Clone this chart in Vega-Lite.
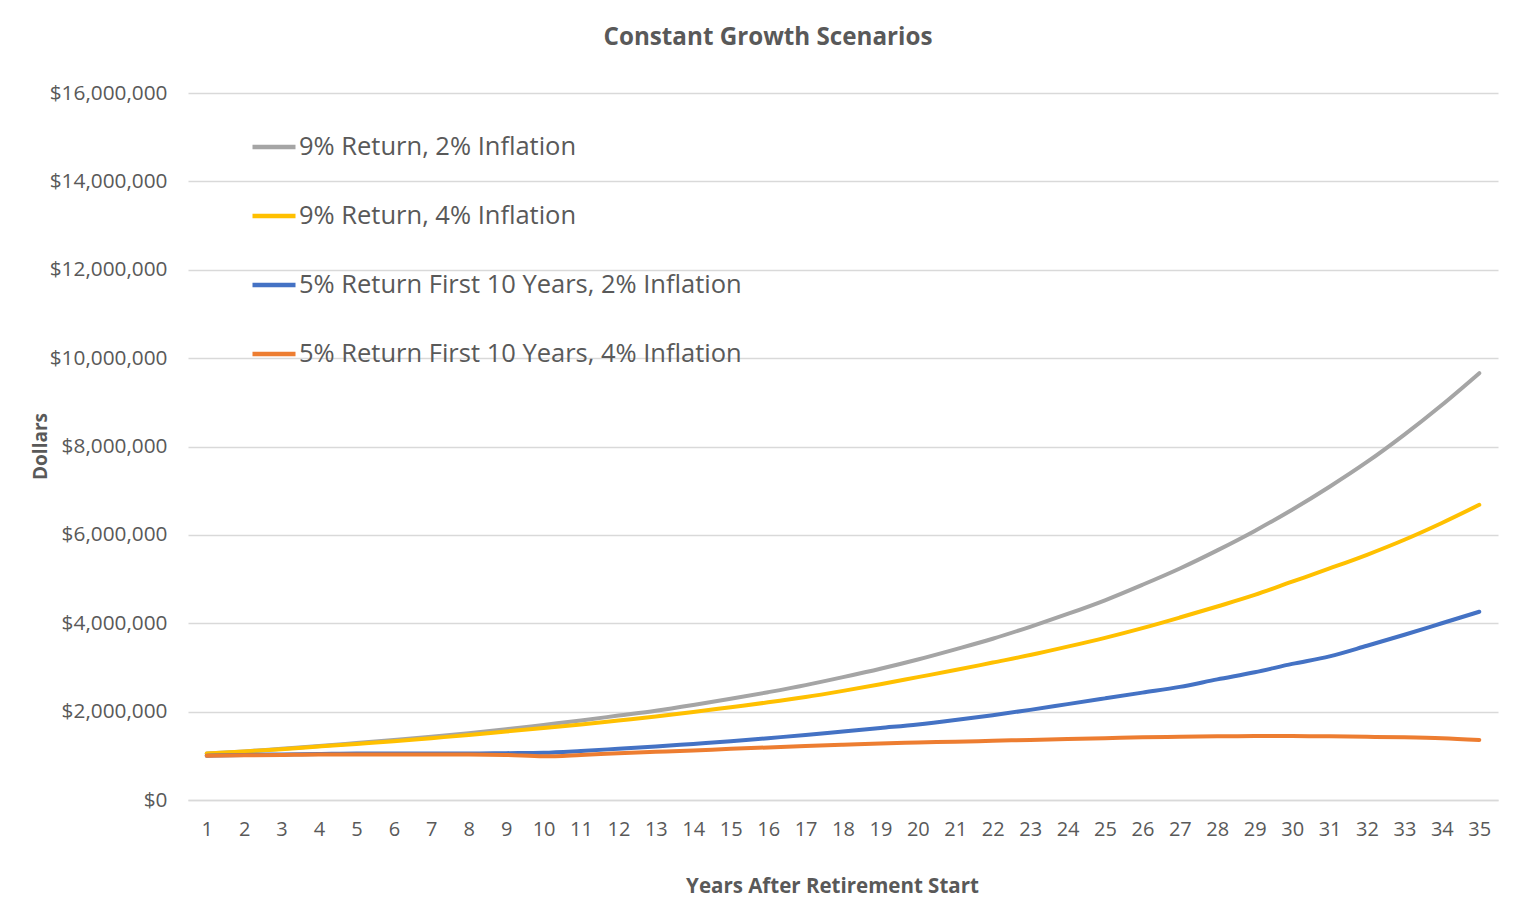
{
  "$schema": "https://vega.github.io/schema/vega-lite/v6.json",
  "autosize": "none",
  "width": 1310,
  "height": 707,
  "padding": {"left": 188, "top": 93, "right": 40, "bottom": 123},
  "background": "white",
  "title": {
    "text": "Constant Growth Scenarios",
    "font": "Open Sans",
    "fontSize": 24.2,
    "fontWeight": "bold",
    "color": "#595959",
    "anchor": "middle",
    "dx": -75,
    "offset": 32
  },
  "data": {
    "values": [
      {"year": 1, "9% Return, 2% Inflation": 1050000, "9% Return, 4% Inflation": 1050000, "5% Return First 10 Years, 2% Inflation": 1000000, "5% Return First 10 Years, 4% Inflation": 1000000},
      {"year": 2, "9% Return, 2% Inflation": 1100000, "9% Return, 4% Inflation": 1100000, "5% Return First 10 Years, 2% Inflation": 1020000, "5% Return First 10 Years, 4% Inflation": 1010000},
      {"year": 3, "9% Return, 2% Inflation": 1160000, "9% Return, 4% Inflation": 1150000, "5% Return First 10 Years, 2% Inflation": 1030000, "5% Return First 10 Years, 4% Inflation": 1020000},
      {"year": 4, "9% Return, 2% Inflation": 1220000, "9% Return, 4% Inflation": 1210000, "5% Return First 10 Years, 2% Inflation": 1040000, "5% Return First 10 Years, 4% Inflation": 1030000},
      {"year": 5, "9% Return, 2% Inflation": 1290000, "9% Return, 4% Inflation": 1270000, "5% Return First 10 Years, 2% Inflation": 1050000, "5% Return First 10 Years, 4% Inflation": 1030000},
      {"year": 6, "9% Return, 2% Inflation": 1360000, "9% Return, 4% Inflation": 1330000, "5% Return First 10 Years, 2% Inflation": 1050000, "5% Return First 10 Years, 4% Inflation": 1030000},
      {"year": 7, "9% Return, 2% Inflation": 1430000, "9% Return, 4% Inflation": 1400000, "5% Return First 10 Years, 2% Inflation": 1050000, "5% Return First 10 Years, 4% Inflation": 1030000},
      {"year": 8, "9% Return, 2% Inflation": 1510000, "9% Return, 4% Inflation": 1470000, "5% Return First 10 Years, 2% Inflation": 1050000, "5% Return First 10 Years, 4% Inflation": 1030000},
      {"year": 9, "9% Return, 2% Inflation": 1600000, "9% Return, 4% Inflation": 1550000, "5% Return First 10 Years, 2% Inflation": 1060000, "5% Return First 10 Years, 4% Inflation": 1020000},
      {"year": 10, "9% Return, 2% Inflation": 1700000, "9% Return, 4% Inflation": 1630000, "5% Return First 10 Years, 2% Inflation": 1070000, "5% Return First 10 Years, 4% Inflation": 990000},
      {"year": 11, "9% Return, 2% Inflation": 1800000, "9% Return, 4% Inflation": 1710000, "5% Return First 10 Years, 2% Inflation": 1110000, "5% Return First 10 Years, 4% Inflation": 1020000},
      {"year": 12, "9% Return, 2% Inflation": 1910000, "9% Return, 4% Inflation": 1800000, "5% Return First 10 Years, 2% Inflation": 1160000, "5% Return First 10 Years, 4% Inflation": 1060000},
      {"year": 13, "9% Return, 2% Inflation": 2020000, "9% Return, 4% Inflation": 1890000, "5% Return First 10 Years, 2% Inflation": 1210000, "5% Return First 10 Years, 4% Inflation": 1090000},
      {"year": 14, "9% Return, 2% Inflation": 2150000, "9% Return, 4% Inflation": 1990000, "5% Return First 10 Years, 2% Inflation": 1270000, "5% Return First 10 Years, 4% Inflation": 1120000},
      {"year": 15, "9% Return, 2% Inflation": 2290000, "9% Return, 4% Inflation": 2100000, "5% Return First 10 Years, 2% Inflation": 1330000, "5% Return First 10 Years, 4% Inflation": 1160000},
      {"year": 16, "9% Return, 2% Inflation": 2440000, "9% Return, 4% Inflation": 2210000, "5% Return First 10 Years, 2% Inflation": 1400000, "5% Return First 10 Years, 4% Inflation": 1190000},
      {"year": 17, "9% Return, 2% Inflation": 2600000, "9% Return, 4% Inflation": 2330000, "5% Return First 10 Years, 2% Inflation": 1470000, "5% Return First 10 Years, 4% Inflation": 1220000},
      {"year": 18, "9% Return, 2% Inflation": 2780000, "9% Return, 4% Inflation": 2470000, "5% Return First 10 Years, 2% Inflation": 1550000, "5% Return First 10 Years, 4% Inflation": 1250000},
      {"year": 19, "9% Return, 2% Inflation": 2970000, "9% Return, 4% Inflation": 2620000, "5% Return First 10 Years, 2% Inflation": 1630000, "5% Return First 10 Years, 4% Inflation": 1280000},
      {"year": 20, "9% Return, 2% Inflation": 3180000, "9% Return, 4% Inflation": 2780000, "5% Return First 10 Years, 2% Inflation": 1710000, "5% Return First 10 Years, 4% Inflation": 1300000},
      {"year": 21, "9% Return, 2% Inflation": 3410000, "9% Return, 4% Inflation": 2940000, "5% Return First 10 Years, 2% Inflation": 1810000, "5% Return First 10 Years, 4% Inflation": 1320000},
      {"year": 22, "9% Return, 2% Inflation": 3650000, "9% Return, 4% Inflation": 3110000, "5% Return First 10 Years, 2% Inflation": 1920000, "5% Return First 10 Years, 4% Inflation": 1340000},
      {"year": 23, "9% Return, 2% Inflation": 3920000, "9% Return, 4% Inflation": 3280000, "5% Return First 10 Years, 2% Inflation": 2040000, "5% Return First 10 Years, 4% Inflation": 1360000},
      {"year": 24, "9% Return, 2% Inflation": 4210000, "9% Return, 4% Inflation": 3470000, "5% Return First 10 Years, 2% Inflation": 2170000, "5% Return First 10 Years, 4% Inflation": 1380000},
      {"year": 25, "9% Return, 2% Inflation": 4520000, "9% Return, 4% Inflation": 3670000, "5% Return First 10 Years, 2% Inflation": 2300000, "5% Return First 10 Years, 4% Inflation": 1400000},
      {"year": 26, "9% Return, 2% Inflation": 4870000, "9% Return, 4% Inflation": 3890000, "5% Return First 10 Years, 2% Inflation": 2430000, "5% Return First 10 Years, 4% Inflation": 1420000},
      {"year": 27, "9% Return, 2% Inflation": 5240000, "9% Return, 4% Inflation": 4130000, "5% Return First 10 Years, 2% Inflation": 2560000, "5% Return First 10 Years, 4% Inflation": 1430000},
      {"year": 28, "9% Return, 2% Inflation": 5650000, "9% Return, 4% Inflation": 4380000, "5% Return First 10 Years, 2% Inflation": 2730000, "5% Return First 10 Years, 4% Inflation": 1440000},
      {"year": 29, "9% Return, 2% Inflation": 6090000, "9% Return, 4% Inflation": 4640000, "5% Return First 10 Years, 2% Inflation": 2890000, "5% Return First 10 Years, 4% Inflation": 1450000},
      {"year": 30, "9% Return, 2% Inflation": 6570000, "9% Return, 4% Inflation": 4940000, "5% Return First 10 Years, 2% Inflation": 3080000, "5% Return First 10 Years, 4% Inflation": 1450000},
      {"year": 31, "9% Return, 2% Inflation": 7090000, "9% Return, 4% Inflation": 5240000, "5% Return First 10 Years, 2% Inflation": 3250000, "5% Return First 10 Years, 4% Inflation": 1440000},
      {"year": 32, "9% Return, 2% Inflation": 7650000, "9% Return, 4% Inflation": 5550000, "5% Return First 10 Years, 2% Inflation": 3490000, "5% Return First 10 Years, 4% Inflation": 1430000},
      {"year": 33, "9% Return, 2% Inflation": 8270000, "9% Return, 4% Inflation": 5890000, "5% Return First 10 Years, 2% Inflation": 3740000, "5% Return First 10 Years, 4% Inflation": 1420000},
      {"year": 34, "9% Return, 2% Inflation": 8940000, "9% Return, 4% Inflation": 6270000, "5% Return First 10 Years, 2% Inflation": 4000000, "5% Return First 10 Years, 4% Inflation": 1400000},
      {"year": 35, "9% Return, 2% Inflation": 9660000, "9% Return, 4% Inflation": 6680000, "5% Return First 10 Years, 2% Inflation": 4260000, "5% Return First 10 Years, 4% Inflation": 1360000}
    ]
  },
  "transform": [
    {"fold": ["9% Return, 2% Inflation", "9% Return, 4% Inflation", "5% Return First 10 Years, 2% Inflation", "5% Return First 10 Years, 4% Inflation"], "as": ["series", "value"]}
  ],
  "mark": {"type": "line", "strokeWidth": 4, "interpolate": "monotone", "strokeCap": "round"},
  "encoding": {
    "x": {
      "field": "year",
      "type": "ordinal",
      "scale": {"type": "point", "padding": 0.5},
      "axis": {
        "title": "Years After Retirement Start",
        "titleFont": "Open Sans",
        "titleFontSize": 20.5,
        "titleFontWeight": "bold",
        "titleColor": "#595959",
        "titleX": 644,
        "titleY": 86,
        "titleBaseline": "middle",
        "labelAngle": 0,
        "labelFont": "Open Sans",
        "labelFontSize": 20,
        "labelColor": "#595959",
        "labelPadding": 19,
        "ticks": false,
        "tickSize": 0,
        "domainColor": "#d9d9d9",
        "domainWidth": 1.5,
        "grid": false
      }
    },
    "y": {
      "field": "value",
      "type": "quantitative",
      "scale": {"domain": [0, 16000000], "nice": false},
      "axis": {
        "title": "Dollars",
        "titleFont": "Open Sans",
        "titleFontSize": 19,
        "titleFontWeight": "bold",
        "titleColor": "#595959",
        "titleX": -148,
        "titleY": 353,
        "titleAngle": 270,
        "titleBaseline": "middle",
        "titleAlign": "center",
        "values": [0, 2000000, 4000000, 6000000, 8000000, 10000000, 12000000, 14000000, 16000000],
        "format": "$,.0f",
        "labelFont": "Open Sans",
        "labelFontSize": 20.8,
        "labelColor": "#595959",
        "labelPadding": 21,
        "ticks": false,
        "tickSize": 0,
        "domain": false,
        "grid": true,
        "gridColor": "#d9d9d9",
        "gridWidth": 1.5
      }
    },
    "color": {
      "field": "series",
      "type": "nominal",
      "sort": ["9% Return, 2% Inflation", "9% Return, 4% Inflation", "5% Return First 10 Years, 2% Inflation", "5% Return First 10 Years, 4% Inflation"],
      "scale": {
        "domain": ["9% Return, 2% Inflation", "9% Return, 4% Inflation", "5% Return First 10 Years, 2% Inflation", "5% Return First 10 Years, 4% Inflation"],
        "range": ["#A5A5A5", "#FFC000", "#4472C4", "#ED7D31"]
      },
      "legend": {
        "title": null,
        "orient": "none",
        "legendX": 62,
        "legendY": 30,
        "padding": 0,
        "symbolType": "stroke",
        "symbolSize": 1849,
        "symbolStrokeWidth": 4.5,
        "labelFont": "Open Sans",
        "labelFontSize": 25.5,
        "labelColor": "#595959",
        "labelOffset": 1,
        "labelLimit": 0,
        "rowPadding": 31
      }
    }
  },
  "config": {"view": {"stroke": null}}
}
